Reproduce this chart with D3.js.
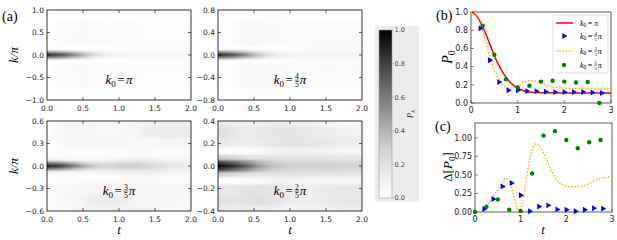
<!DOCTYPE html>
<html>
<head>
<meta charset="utf-8">
<script src="https://cdn.jsdelivr.net/npm/d3@7"></script>
<style>
  body { margin: 0; background: #fff; }
  text { font-family: "DejaVu Sans", sans-serif; }
  .serif, .serif text { font-family: "Liberation Serif", "DejaVu Serif", serif; }
</style>
</head>
<body>
<div class="chart"></div>
<script>
"use strict";

// ---------- data ----------
// heatmap time columns (shared by all four panels)
const tCols = [0, 0.2, 0.4, 0.6, 0.8, 1.0, 1.2, 1.4, 1.6, 1.8, 2.0];

// k0 = pi
const kRows1 = [1.0, 0.5, 0.25, 0.12, 0.06, 0, -0.06, -0.12, -0.25, -0.5, -1.0];
const pk1 = [
  [0.00, 0.01, 0.02, 0.02, 0.02, 0.01, 0.01, 0.01, 0.01, 0.01, 0.01],
  [0.00, 0.03, 0.05, 0.05, 0.04, 0.03, 0.03, 0.02, 0.02, 0.02, 0.02],
  [0.00, 0.04, 0.06, 0.05, 0.04, 0.04, 0.03, 0.03, 0.03, 0.03, 0.03],
  [0.00, 0.02, 0.01, 0.00, 0.00, 0.01, 0.03, 0.03, 0.03, 0.03, 0.03],
  [0.60, 0.50, 0.33, 0.17, 0.09, 0.06, 0.05, 0.05, 0.05, 0.05, 0.05],
  [1.00, 0.90, 0.62, 0.32, 0.16, 0.10, 0.09, 0.08, 0.08, 0.08, 0.08],
  [0.60, 0.50, 0.33, 0.17, 0.09, 0.06, 0.05, 0.05, 0.05, 0.05, 0.05],
  [0.00, 0.02, 0.01, 0.00, 0.00, 0.01, 0.03, 0.03, 0.03, 0.03, 0.03],
  [0.00, 0.04, 0.06, 0.05, 0.04, 0.04, 0.03, 0.03, 0.03, 0.03, 0.03],
  [0.00, 0.03, 0.05, 0.05, 0.04, 0.03, 0.03, 0.02, 0.02, 0.02, 0.02],
  [0.00, 0.01, 0.02, 0.02, 0.02, 0.01, 0.01, 0.01, 0.01, 0.01, 0.01]
];

// k0 = 4/5 pi
const kRows2 = [0.8, 0.4, 0.2, 0.1, 0.05, 0, -0.05, -0.1, -0.2, -0.4, -0.8];
const pk2 = [
  [0.00, 0.01, 0.02, 0.03, 0.03, 0.02, 0.02, 0.02, 0.02, 0.02, 0.02],
  [0.00, 0.03, 0.06, 0.06, 0.05, 0.04, 0.04, 0.04, 0.04, 0.04, 0.04],
  [0.00, 0.04, 0.07, 0.06, 0.05, 0.05, 0.05, 0.05, 0.05, 0.05, 0.05],
  [0.00, 0.02, 0.01, 0.00, 0.01, 0.02, 0.04, 0.05, 0.05, 0.05, 0.05],
  [0.60, 0.50, 0.33, 0.17, 0.10, 0.07, 0.07, 0.07, 0.07, 0.07, 0.07],
  [1.00, 0.92, 0.62, 0.32, 0.17, 0.11, 0.10, 0.10, 0.10, 0.10, 0.10],
  [0.60, 0.50, 0.33, 0.17, 0.10, 0.07, 0.07, 0.07, 0.07, 0.07, 0.07],
  [0.00, 0.02, 0.01, 0.00, 0.01, 0.02, 0.04, 0.05, 0.05, 0.05, 0.05],
  [0.00, 0.04, 0.07, 0.06, 0.05, 0.05, 0.05, 0.05, 0.05, 0.05, 0.05],
  [0.00, 0.03, 0.06, 0.06, 0.05, 0.04, 0.04, 0.04, 0.04, 0.04, 0.04],
  [0.00, 0.01, 0.02, 0.03, 0.03, 0.02, 0.02, 0.02, 0.02, 0.02, 0.02]
];

// k0 = 3/5 pi
const kRows3 = [0.6, 0.45, 0.3, 0.15, 0.08, 0.04, 0, -0.04, -0.08, -0.15, -0.3, -0.45, -0.6];
const pk3 = [
  [0.02, 0.07, 0.09, 0.08, 0.07, 0.07, 0.08, 0.10, 0.12, 0.12, 0.11],
  [0.02, 0.07, 0.08, 0.07, 0.06, 0.06, 0.08, 0.12, 0.15, 0.15, 0.14],
  [0.01, 0.06, 0.07, 0.07, 0.07, 0.07, 0.06, 0.06, 0.07, 0.08, 0.08],
  [0.01, 0.04, 0.04, 0.03, 0.03, 0.04, 0.05, 0.05, 0.04, 0.04, 0.04],
  [0.10, 0.08, 0.06, 0.05, 0.07, 0.10, 0.12, 0.12, 0.10, 0.08, 0.08],
  [0.65, 0.55, 0.36, 0.22, 0.20, 0.24, 0.25, 0.22, 0.17, 0.14, 0.13],
  [1.00, 0.92, 0.66, 0.38, 0.28, 0.31, 0.32, 0.28, 0.22, 0.18, 0.16],
  [0.65, 0.55, 0.36, 0.22, 0.20, 0.24, 0.25, 0.22, 0.17, 0.14, 0.13],
  [0.10, 0.08, 0.06, 0.05, 0.07, 0.10, 0.12, 0.12, 0.10, 0.08, 0.08],
  [0.01, 0.04, 0.04, 0.03, 0.03, 0.04, 0.05, 0.05, 0.04, 0.04, 0.04],
  [0.01, 0.06, 0.07, 0.08, 0.08, 0.08, 0.07, 0.07, 0.07, 0.07, 0.07],
  [0.02, 0.06, 0.08, 0.12, 0.14, 0.13, 0.09, 0.07, 0.07, 0.07, 0.07],
  [0.02, 0.05, 0.07, 0.11, 0.12, 0.11, 0.08, 0.07, 0.06, 0.06, 0.06]
];

// k0 = 2/5 pi
const kRows4 = [0.4, 0.3, 0.2, 0.13, 0.07, 0.035, 0, -0.035, -0.07, -0.13, -0.2, -0.3, -0.4];
const pk4 = [
  [0.16, 0.13, 0.11, 0.12, 0.14, 0.14, 0.12, 0.09, 0.07, 0.05, 0.05],
  [0.22, 0.17, 0.14, 0.17, 0.19, 0.19, 0.17, 0.14, 0.12, 0.10, 0.10],
  [0.17, 0.14, 0.12, 0.15, 0.18, 0.20, 0.19, 0.17, 0.15, 0.13, 0.12],
  [0.02, 0.02, 0.03, 0.05, 0.08, 0.10, 0.10, 0.09, 0.08, 0.07, 0.07],
  [0.30, 0.25, 0.20, 0.19, 0.19, 0.19, 0.19, 0.18, 0.18, 0.17, 0.17],
  [0.80, 0.70, 0.52, 0.37, 0.28, 0.25, 0.25, 0.25, 0.25, 0.24, 0.24],
  [1.00, 0.92, 0.72, 0.47, 0.34, 0.30, 0.29, 0.29, 0.29, 0.28, 0.28],
  [0.80, 0.70, 0.52, 0.37, 0.28, 0.25, 0.25, 0.25, 0.25, 0.24, 0.24],
  [0.30, 0.25, 0.20, 0.19, 0.19, 0.19, 0.19, 0.18, 0.18, 0.17, 0.17],
  [0.02, 0.02, 0.03, 0.06, 0.09, 0.09, 0.08, 0.08, 0.08, 0.08, 0.08],
  [0.17, 0.16, 0.19, 0.20, 0.18, 0.14, 0.13, 0.14, 0.16, 0.17, 0.17],
  [0.22, 0.18, 0.20, 0.21, 0.18, 0.14, 0.12, 0.13, 0.16, 0.18, 0.19],
  [0.16, 0.13, 0.14, 0.14, 0.12, 0.09, 0.08, 0.09, 0.12, 0.14, 0.15]
];

// (b) P0 curves and points
const redT = [0, 0.1, 0.2, 0.3, 0.4, 0.5, 0.6, 0.7, 0.8, 0.9, 1.0, 1.1, 1.2, 1.3, 1.5, 2.0, 2.5, 3.0];
const redP = [1.0, 0.97, 0.89, 0.78, 0.65, 0.52, 0.41, 0.32, 0.25, 0.2, 0.165, 0.14, 0.125, 0.117, 0.112, 0.11, 0.11, 0.11];
const orangeT = [0, 0.1, 0.2, 0.3, 0.4, 0.5, 0.6, 0.7, 0.8, 0.9, 1.0, 1.1, 1.2, 1.3, 1.4, 1.5, 1.6, 1.7, 1.8, 2.0, 2.2, 2.5, 3.0];
const orangeP = [1.0, 0.97, 0.86, 0.7, 0.52, 0.37, 0.26, 0.19, 0.165, 0.17, 0.19, 0.22, 0.24, 0.245, 0.235, 0.22, 0.2, 0.185, 0.175, 0.165, 0.16, 0.16, 0.16];
const blueT = [0.2, 0.4, 0.6, 0.8, 1.0, 1.2, 1.4, 1.6, 1.8, 2.0, 2.2, 2.4, 2.6, 2.8];
const blueP = [0.82, 0.47, 0.23, 0.14, 0.14, 0.13, 0.13, 0.125, 0.12, 0.12, 0.12, 0.12, 0.115, 0.11];
const greenT = [0.25, 0.5, 0.75, 1.0, 1.25, 1.5, 1.75, 2.0, 2.25, 2.5, 2.75];
const greenP = [0.85, 0.53, 0.26, 0.17, 0.19, 0.235, 0.245, 0.235, 0.225, 0.23, 0.0];

// (c) Delta[P0]
const orangeDT = [0, 0.1, 0.2, 0.3, 0.4, 0.5, 0.6, 0.67, 0.74, 0.82, 0.89, 0.95, 1.0, 1.05, 1.11, 1.18, 1.26, 1.33, 1.4, 1.51, 1.62, 1.73, 1.84, 1.95, 2.1, 2.25, 2.4, 2.55, 2.7, 2.85, 3.0];
const orangeD = [0, 0.01, 0.045, 0.12, 0.21, 0.31, 0.4, 0.45, 0.43, 0.29, 0.11, 0.0, 0.05, 0.15, 0.38, 0.65, 0.85, 0.92, 0.9, 0.78, 0.63, 0.49, 0.4, 0.36, 0.34, 0.34, 0.36, 0.4, 0.44, 0.46, 0.49];
const blueDT = [0.2, 0.4, 0.6, 0.8, 1.0, 1.2, 1.4, 1.6, 1.8, 2.0, 2.2, 2.4, 2.6, 2.8];
const blueD = [0.04, 0.175, 0.345, 0.39, 0.225, 0.01, 0.075, 0.09, 0.035, 0.03, 0.01, 0.03, 0.05, 0.045];
const greenDT = [0, 0.25, 0.5, 0.75, 1.0, 1.25, 1.5, 1.75, 2.0, 2.25, 2.5, 2.75];
const greenD = [0, 0.07, 0.17, 0.03, 0.015, 0.52, 1.03, 1.09, 0.97, 0.86, 0.94, 0.97];

// ---------- drawing ----------
const W = 617, H = 240;
const svg = d3.select(".chart").append("svg")
    .attr("width", W).attr("height", H);
svg.append("rect").attr("width", W).attr("height", H).attr("fill", "#fff");

const defs = svg.append("defs");
defs.append("filter").attr("id", "blur")
    .attr("x", "-10%").attr("y", "-10%").attr("width", "120%").attr("height", "120%")
    .append("feGaussianBlur").attr("stdDeviation", "6 1");

// math-ish label built from pieces
function mathText(parent, x, y, items, fs, anchor) {
    let g = parent.append("g").attr("class", "serif");
    let cx = 0;
    items.forEach(it => {
        if (it.frac) {
            let fs2 = fs * 0.6;
            let bar = -fs * 0.3;
            let n = g.append("text").attr("y", bar - 1.2).style("font-size", fs2 + "px").text(it.frac[0]);
            let d = g.append("text").attr("y", bar + 1.2 + fs2 * 0.72).style("font-size", fs2 + "px").text(it.frac[1]);
            let w = Math.max(n.node().getComputedTextLength(), d.node().getComputedTextLength()) + 1;
            n.attr("x", cx + w / 2).attr("text-anchor", "middle");
            d.attr("x", cx + w / 2).attr("text-anchor", "middle");
            g.append("line").attr("x1", cx).attr("x2", cx + w).attr("y1", bar).attr("y2", bar)
                .attr("stroke", "#000").attr("stroke-width", 0.5);
            cx += w + 0.5;
        } else {
            let f = it.sub ? fs * 0.7 : fs;
            let t = g.append("text").attr("x", cx).attr("y", it.sub ? fs * 0.22 : 0)
                .style("font-size", f + "px")
                .style("font-style", it.it ? "italic" : "normal")
                .text(it.t);
            cx += t.node().getComputedTextLength() + (it.gap || 0);
        }
    });
    let off = anchor === "middle" ? -cx / 2 : 0;
    g.attr("transform", "translate(" + (x + off) + "," + y + ")");
    return g;
}

function kLabel(frac) {
    let items = [{t: "k", it: true}, {t: "0", sub: true, gap: 1.5}, {t: "=", gap: 1.5}];
    if (frac) items.push({frac: frac});
    items.push({t: "π", it: true});
    return items;
}

const color = v => d3.interpolateGreys(Math.max(0, Math.min(1, v)));

const panels = [
    {x0: 47, x1: 191, y0: 10, y1: 100, kmax: 1.0, kRows: kRows1, z: pk1, ticks: [-1, -0.5, 0, 0.5, 1], frac: null, ylab: true},
    {x0: 218, x1: 362, y0: 10, y1: 100, kmax: 0.8, kRows: kRows2, z: pk2, ticks: [-0.8, -0.4, 0, 0.4, 0.8], frac: ["4", "5"]},
    {x0: 47, x1: 191, y0: 121, y1: 211, kmax: 0.6, kRows: kRows3, z: pk3, ticks: [-0.6, -0.3, 0, 0.3, 0.6], frac: ["3", "5"], ylab: true, xlab: true},
    {x0: 218, x1: 362, y0: 121, y1: 211, kmax: 0.4, kRows: kRows4, z: pk4, ticks: [-0.4, -0.2, 0, 0.2, 0.4], frac: ["2", "5"], xlab: true}
];

panels.forEach((p, pi) => {
    let x = d3.scaleLinear().domain([0, 2]).range([p.x0, p.x1]);
    let y = d3.scaleLinear().domain([-p.kmax, p.kmax]).range([p.y1, p.y0]);
    let cid = "clip" + pi;
    defs.append("clipPath").attr("id", cid).append("rect")
        .attr("x", p.x0).attr("y", p.y0).attr("width", p.x1 - p.x0).attr("height", p.y1 - p.y0);

    let g = svg.append("g").attr("clip-path", "url(#" + cid + ")")
        .append("g").attr("filter", "url(#blur)");
    let nT = tCols.length, nK = p.kRows.length;
    let tLo = j => j === 0 ? -0.3 : (tCols[j - 1] + tCols[j]) / 2;
    let tHi = j => j === nT - 1 ? 2.3 : (tCols[j] + tCols[j + 1]) / 2;
    let kHi = i => i === 0 ? p.kmax * 1.2 : (p.kRows[i - 1] + p.kRows[i]) / 2;
    let kLo = i => i === nK - 1 ? -p.kmax * 1.2 : (p.kRows[i] + p.kRows[i + 1]) / 2;
    let cells = [];
    p.z.forEach((row, i) => row.forEach((v, j) => cells.push({i, j, v})));
    g.selectAll("rect").data(cells).enter().append("rect")
        .attr("x", d => x(tLo(d.j)))
        .attr("width", d => x(tHi(d.j)) - x(tLo(d.j)) + 0.5)
        .attr("y", d => y(kHi(d.i)))
        .attr("height", d => y(kLo(d.i)) - y(kHi(d.i)) + 0.3)
        .attr("fill", d => color(d.v));

    // frame
    svg.append("rect").attr("x", p.x0).attr("y", p.y0)
        .attr("width", p.x1 - p.x0).attr("height", p.y1 - p.y0)
        .attr("fill", "none").attr("stroke", "#000").attr("stroke-width", 0.8);

    // inward ticks, all sides
    let tl = 3;
    let tk = svg.append("g").attr("stroke", "#000").attr("stroke-width", 0.6);
    [0.5, 1, 1.5].forEach(t => {
        tk.append("line").attr("x1", x(t)).attr("x2", x(t)).attr("y1", p.y1).attr("y2", p.y1 - tl);
        tk.append("line").attr("x1", x(t)).attr("x2", x(t)).attr("y1", p.y0).attr("y2", p.y0 + tl);
    });
    p.ticks.slice(1, -1).forEach(k => {
        tk.append("line").attr("x1", p.x0).attr("x2", p.x0 + tl).attr("y1", y(k)).attr("y2", y(k));
        tk.append("line").attr("x1", p.x1).attr("x2", p.x1 - tl).attr("y1", y(k)).attr("y2", y(k));
    });

    // tick labels
    let f1 = d3.format(".1f");
    svg.append("g").selectAll("text").data([0, 0.5, 1, 1.5, 2]).enter().append("text")
        .attr("x", d => x(d)).attr("y", p.y1 + 10.5)
        .attr("text-anchor", "middle").style("font-size", "7.5px").attr("fill", "#222")
        .text(d => f1(d));
    svg.append("g").selectAll("text").data(p.ticks).enter().append("text")
        .attr("x", p.x0 - 3).attr("y", d => y(d) + 2.7)
        .attr("text-anchor", "end").style("font-size", "7.5px").attr("fill", "#222")
        .text(d => f1(d));

    mathText(svg, (p.x0 + p.x1) / 2, p.y0 + 74, kLabel(p.frac), 13, "middle");

    if (p.ylab) {
        let gl = svg.append("g").attr("transform", "translate(18," + ((p.y0 + p.y1) / 2) + ") rotate(-90)");
        mathText(gl, 0, 0, [{t: "k/π", it: true}], 13, "middle");
    }
    if (p.xlab) {
        mathText(svg, (p.x0 + p.x1) / 2, 234, [{t: "t", it: true}], 13, "middle");
    }
});

svg.append("text").attr("class", "serif").attr("x", 2).attr("y", 21)
    .style("font-size", "14px").text("(a)");

// ---------- colorbar ----------
svg.append("rect").attr("x", 375).attr("y", 26).attr("width", 44).attr("height", 176).attr("fill", "#ececec");
let grad = defs.append("linearGradient").attr("id", "cbar")
    .attr("x1", 0).attr("x2", 0).attr("y1", 1).attr("y2", 0);
d3.range(0, 1.0001, 0.05).forEach(v => grad.append("stop").attr("offset", v).attr("stop-color", color(v)));
let cy = d3.scaleLinear().domain([0, 1]).range([198, 30]);
svg.append("rect").attr("x", 379).attr("y", 30).attr("width", 13).attr("height", 168)
    .attr("fill", "url(#cbar)").attr("stroke", "#999").attr("stroke-width", 0.6);
let cbTicks = [0, 0.2, 0.4, 0.6, 0.8, 1.0];
svg.append("g").selectAll("line").data(cbTicks).enter().append("line")
    .attr("x1", 392).attr("x2", 394).attr("y1", d => cy(d)).attr("y2", d => cy(d))
    .attr("stroke", "#888").attr("stroke-width", 0.5);
svg.append("g").selectAll("text").data(cbTicks).enter().append("text")
    .attr("x", 394.5).attr("y", d => cy(d) + 2.4)
    .style("font-size", "6.5px").attr("fill", "#444")
    .text(d => d3.format(".1f")(d));
let gcb = svg.append("g").attr("transform", "translate(413,114) rotate(-90)");
mathText(gcb, 0, 0, [{t: "P", it: true}, {t: "k", sub: true, it: true}], 9, "middle").attr("fill", "#333");

// ---------- (b) and (c) ----------
const xb = d3.scaleLinear().domain([0, 3]).range([471, 611]);
const yb = d3.scaleLinear().domain([0, 1]).range([103, 12]);
const xc = d3.scaleLinear().domain([0, 3]).range([475, 612]);
const yc = d3.scaleLinear().domain([0, 1.2]).range([212, 123]);

function frameAxes(x, y, yTicks, yFmt) {
    let g = svg.append("g");
    g.append("rect").attr("x", x.range()[0]).attr("y", y.range()[1])
        .attr("width", x.range()[1] - x.range()[0]).attr("height", y.range()[0] - y.range()[1])
        .attr("fill", "none").attr("stroke", "#333").attr("stroke-width", 0.8);
    [0, 1, 2, 3].forEach(t => {
        g.append("line").attr("x1", x(t)).attr("x2", x(t)).attr("y1", y.range()[0]).attr("y2", y.range()[0] - 3)
            .attr("stroke", "#333").attr("stroke-width", 0.6);
        g.append("text").attr("x", x(t)).attr("y", y.range()[0] + 10)
            .attr("text-anchor", "middle").style("font-size", "8px").attr("fill", "#222").text(t);
    });
    yTicks.forEach(v => {
        g.append("line").attr("x1", x.range()[0]).attr("x2", x.range()[0] + 3).attr("y1", y(v)).attr("y2", y(v))
            .attr("stroke", "#333").attr("stroke-width", 0.6);
        g.append("text").attr("x", x.range()[0] - 3).attr("y", y(v) + 2.8)
            .attr("text-anchor", "end").style("font-size", "8px").attr("fill", "#222").text(d3.format(yFmt)(v));
    });
}
frameAxes(xb, yb, [0, 0.2, 0.4, 0.6, 0.8, 1.0], ".1f");
frameAxes(xc, yc, [0, 0.25, 0.5, 0.75, 1.0], ".2f");

function drawSeries(x, y, lt, lp, dt, dp, ot, op, gt, gp, withRed) {
    if (withRed) {
        svg.append("path").datum(lt.map((t, i) => [t, lp[i]]))
            .attr("d", d3.line().x(d => x(d[0])).y(d => y(d[1])).curve(d3.curveMonotoneX))
            .attr("fill", "none").attr("stroke", "#ff0000").attr("stroke-width", 1.5);
    }
    svg.append("path").datum(ot.map((t, i) => [t, op[i]]))
        .attr("d", d3.line().x(d => x(d[0])).y(d => y(d[1])).curve(d3.curveMonotoneX))
        .attr("fill", "none").attr("stroke", "#ffa500").attr("stroke-width", 1.4)
        .attr("stroke-dasharray", "1.4,1.8");
    svg.append("g").selectAll("path").data(dt.map((t, i) => [t, dp[i]])).enter().append("path")
        .attr("d", d3.symbol(d3.symbolTriangle, 15))
        .attr("transform", d => "translate(" + x(d[0]) + "," + y(d[1]) + ") rotate(90)")
        .attr("fill", "#0000ff");
    svg.append("g").selectAll("circle").data(gt.map((t, i) => [t, gp[i]])).enter().append("circle")
        .attr("cx", d => x(d[0])).attr("cy", d => y(d[1])).attr("r", 2.2)
        .attr("fill", "#008000");
}
drawSeries(xb, yb, redT, redP, blueT, blueP, orangeT, orangeP, greenT, greenP, true);
drawSeries(xc, yc, null, null, blueDT, blueD, orangeDT, orangeD, greenDT, greenD, false);

// legend (b)
svg.append("rect").attr("x", 553).attr("y", 15).attr("width", 55).attr("height", 58).attr("rx", 2)
    .attr("fill", "#fff").attr("fill-opacity", 0.85).attr("stroke", "#ccc").attr("stroke-width", 0.6);
const legRows = [23, 36, 51, 65];
svg.append("line").attr("x1", 556).attr("x2", 573).attr("y1", legRows[0]).attr("y2", legRows[0])
    .attr("stroke", "#ff0000").attr("stroke-width", 1.5);
svg.append("path").attr("d", d3.symbol(d3.symbolTriangle, 15))
    .attr("transform", "translate(564," + legRows[1] + ") rotate(90)").attr("fill", "#0000ff");
svg.append("line").attr("x1", 556).attr("x2", 573).attr("y1", legRows[2]).attr("y2", legRows[2])
    .attr("stroke", "#ffa500").attr("stroke-width", 1.4).attr("stroke-dasharray", "1.4,1.8");
svg.append("circle").attr("cx", 564).attr("cy", legRows[3]).attr("r", 2.2).attr("fill", "#008000");
[null, ["4", "5"], ["3", "5"], ["2", "5"]].forEach((fr, i) => {
    mathText(svg, 580, legRows[i] + 2.5, kLabel(fr), 8, "start");
});

// axis labels (b), (c)
let gP0 = svg.append("g").attr("transform", "translate(452,57) rotate(-90)");
mathText(gP0, 0, 0, [{t: "P", it: true}, {t: "0", sub: true}], 14, "middle");
let gdP = svg.append("g").attr("transform", "translate(452,167) rotate(-90)");
mathText(gdP, 0, 0, [{t: "Δ["}, {t: "P", it: true}, {t: "0", sub: true}, {t: "]"}], 13, "middle");
mathText(svg, 543, 234, [{t: "t", it: true}], 13, "middle");

svg.append("text").attr("class", "serif").attr("x", 436).attr("y", 20)
    .style("font-size", "14px").text("(b)");
svg.append("text").attr("class", "serif").attr("x", 435).attr("y", 131)
    .style("font-size", "14px").text("(c)");
</script>
</body>
</html>
